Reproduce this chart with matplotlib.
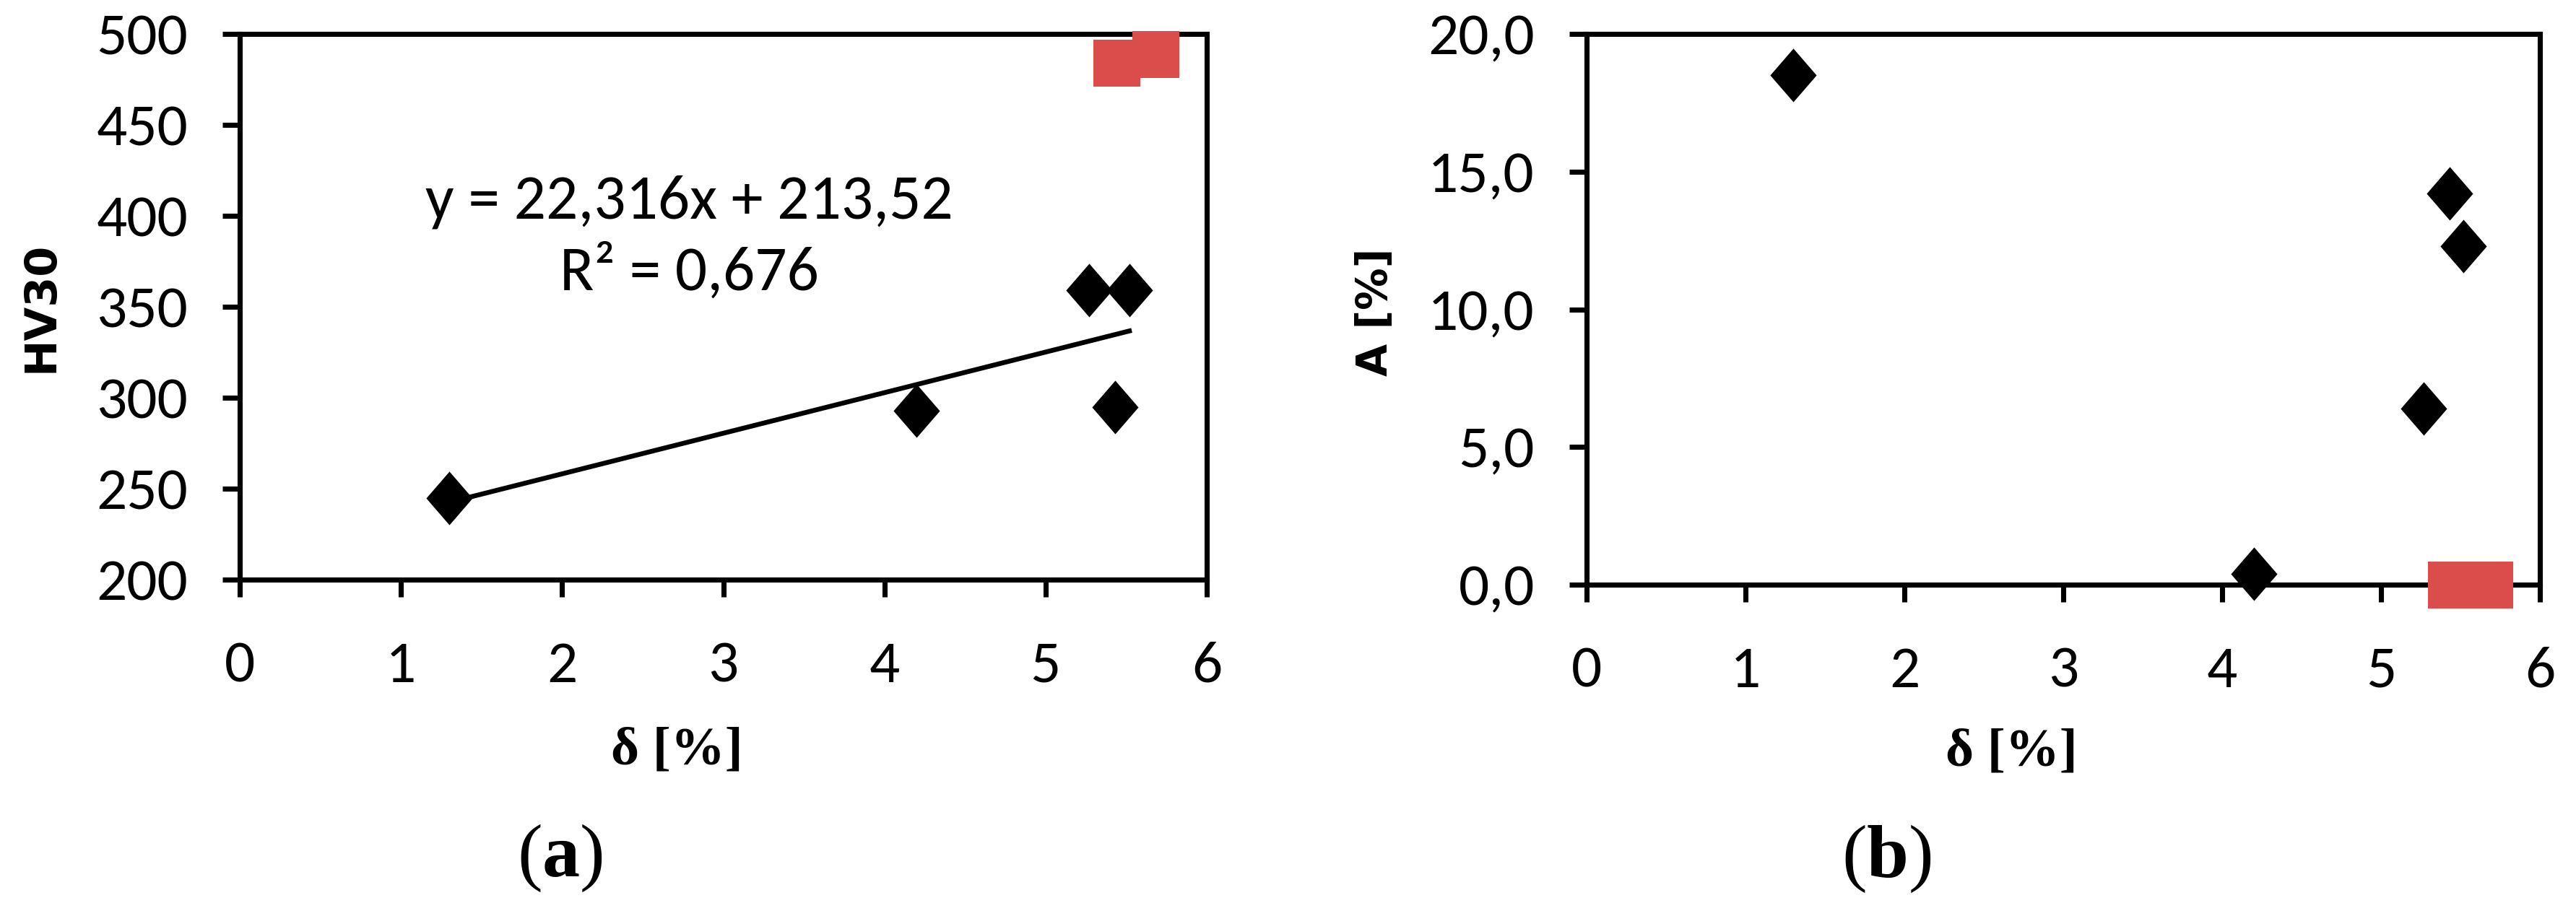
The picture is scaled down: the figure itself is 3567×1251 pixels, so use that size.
import numpy as np
import matplotlib
matplotlib.use("Agg")
import matplotlib.pyplot as plt
from matplotlib.path import Path

# --- data ---
delta = [1.3, 4.2, 5.27, 5.43, 5.52]          # δ [%]
hv30 = [245, 293, 359, 295, 359]               # HV30 (panel a)
elong = [18.5, 0.4, 6.4, 14.2, 12.3]           # A [%] (panel b)
delta_red = [5.44, 5.68]
hv30_red = [484, 489]
elong_red = [0.0, 0.0]
fit_slope = 22.316
fit_icpt = 213.52
eq_text = "y = 22,316x + 213,52\nR² = 0,676"

x_ticks = [0, 1, 2, 3, 4, 5, 6]
hv_ticks = [200, 250, 300, 350, 400, 450, 500]
a_ticks = [0, 5, 10, 15, 20]

SANS = ["Carlito", "Lato", "DejaVu Sans"]
SERIF = ["Liberation Serif", "DejaVu Serif"]
plt.rcParams["font.family"] = SANS
plt.rcParams["mathtext.fontset"] = "custom"
plt.rcParams["mathtext.rm"] = "Liberation Serif"
plt.rcParams["mathtext.bf"] = "Liberation Serif:bold"

RED = "#DB4D4B"
W, H = 3567, 1251
DPI = 300
diamond = Path([(0, 1), (0.865, 0), (0, -1), (-0.865, 0), (0, 1)])

fig = plt.figure(figsize=(W / DPI, H / DPI), dpi=DPI)


def px_axes(l, r, t, b):
    return fig.add_axes([l / W, (H - b) / H, (r - l) / W, (b - t) / H])


def style(ax):
    for sp in ax.spines.values():
        sp.set_linewidth(1.7)
        sp.set_color("black")
    ax.tick_params(direction="out", length=5.8, width=1.7, labelsize=20,
                   top=False, right=False)
    ax.tick_params(axis="y", pad=11.5)
    ax.tick_params(axis="x", pad=14.5)
    ax.set_xlim(0, 6)
    ax.set_xticks(x_ticks)


ax1 = px_axes(332, 1671, 47, 803)
style(ax1)
ax1.set_ylim(200, 500)
ax1.set_yticks(hv_ticks)
xf = np.array([min(delta), max(delta)])
ax1.plot(xf, fit_slope * xf + fit_icpt, color="black", lw=1.6, zorder=3)
ax1.plot(delta, hv30, linestyle="none", marker=diamond, ms=17.8,
         color="black", mew=0, zorder=5, clip_on=False)
ax1.plot(delta_red, hv30_red, linestyle="none", marker="s", ms=15.6,
         color=RED, mew=0, zorder=6, clip_on=False)
ax1.text(2.79, 388, eq_text, ha="center", va="center", fontsize=21,
         linespacing=1.3)

ax2 = px_axes(2197, 3517, 47, 810)
style(ax2)
ax2.set_ylim(0, 20)
ax2.set_yticks(a_ticks)
ax2.set_yticklabels([f"{v:.1f}".replace(".", ",") for v in a_ticks])
ax2.plot(delta, elong, linestyle="none", marker=diamond, ms=17.8,
         color="black", mew=0, zorder=5, clip_on=False)
ax2.plot(delta_red, elong_red, linestyle="none", marker="s", ms=15.6,
         color=RED, mew=0, zorder=6, clip_on=False)

# axis titles and panel letters, placed like the original
fig.text(57 / W, 1 - 425 / H, "HV30", rotation=90, ha="center", va="center",
         fontsize=14.5, fontweight="bold", family="DejaVu Sans")
fig.text(1904 / W, 1 - 432 / H, "A [%]", rotation=90, ha="center",
         va="center", fontsize=14, fontweight="bold", family="DejaVu Sans")
fig.text(937 / W, 1 - 1041 / H, "δ [%]", ha="center", va="center",
         fontsize=18, fontweight="bold", family=SERIF)
fig.text(2785 / W, 1 - 1043 / H, "δ [%]", ha="center", va="center",
         fontsize=18, fontweight="bold", family=SERIF)
fig.text(775 / W, 1 - 1189 / H, r"($\mathbf{a}$)", ha="center", va="center",
         fontsize=25, family=SERIF)
fig.text(2612 / W, 1 - 1190 / H, r"($\mathbf{b}$)", ha="center", va="center",
         fontsize=25, family=SERIF)

fig.savefig("out.png", dpi=DPI, facecolor="white")
